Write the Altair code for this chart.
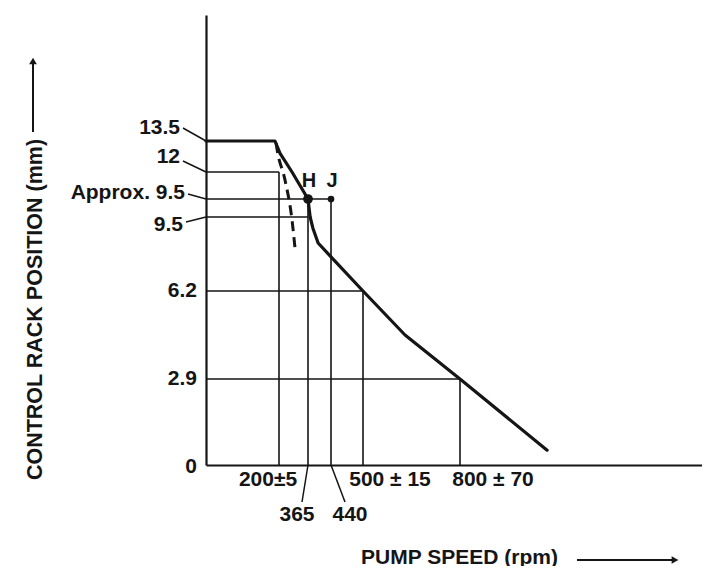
import altair as alt
import pandas as pd

# ---------------- data ----------------
# main governor curve (pump speed rpm -> control rack position mm)
curve_rpm = [0, 189, 206, 274, 365, 372, 381, 398, 440, 500, 630, 800, 1070]
curve_mm = [13.5, 13.5, 12.9, 12.0, 10.5, 9.5, 9.0, 8.34, 7.72, 6.2, 4.55, 2.9, 0.5]
# dashed branch
dash_rpm = [192, 195, 234, 274, 291]
dash_mm = [13.4, 13.06, 11.56, 9.37, 8.12]
# horizontal guides: level (mm) and the speed (rpm) where each guide ends
level_mm = [12, 10.5, 9.5, 6.2, 2.9]
level_rpm = [200, 440, 365, 500, 800]
# vertical guides: speed (rpm) and the level (mm) where each guide starts
speed_rpm = [200, 365, 440, 500, 800]
speed_mm = [12, 10.5, 10.5, 6.2, 2.9]
# axis labels ("Approx. 9.5" is drawn above the 9.5 line in the diagram)
y_labels = ["13.5", "12", "Approx. 9.5", "9.5", "6.2", "2.9", "0"]
y_label_mm = [13.5, 12, 10.5, 9.5, 6.2, 2.9, 0]
x_labels = ["200±5", "365", "440", "500 ± 15", "800 ± 70"]
x_label_rpm = [200, 365, 440, 500, 800]
# marked points
point_names = ["H", "J"]
point_rpm = [365, 440]
point_mm = [10.5, 10.5]

# ---------------- styling ----------------
INK = "#151515"
FONT = "Liberation Sans"
LABEL_SIZE = 21
LABEL_WEIGHT = "bold"
W, H = 496, 450

# schematic (not-to-scale) piecewise axes of the original drawing
xscale = alt.Scale(domain=[0, 200, 365, 440, 500, 800, 1550],
                   range=[0, 73, 102, 125, 157, 254, W], nice=False, zero=False)
yscale = alt.Scale(domain=[0, 2.9, 6.2, 9.5, 10.5, 12, 13.5, 16],
                   range=[H, 364, 276, 202, 184, 157, 126, 0], nice=False, zero=False)

y_label_style = {
    "13.5": dict(dx=-26, dy=-13, lead=(-23, -13)),
    "12": dict(dx=-26, dy=-15, lead=(-23, -11)),
    "Approx. 9.5": dict(dx=-21, dy=-6, lead=(-18, -5)),
    "9.5": dict(dx=-23, dy=8, lead=(-20, 5)),
    "6.2": dict(dx=-9, dy=0),
    "2.9": dict(dx=-9, dy=0),
    "0": dict(dx=-9, dy=2),
}
x_label_style = {
    "200±5": dict(dx=-11, dy=15),
    "365": dict(dx=-11, dy=50, lead=(-6, 37)),
    "440": dict(dx=19, dy=50, lead=(14, 37)),
    "500 ± 15": dict(dx=27, dy=15),
    "800 ± 70": dict(dx=33, dy=15),
}

x_axis = alt.Axis(domain=True, domainColor=INK, domainWidth=2.2, ticks=False,
                  labels=False, grid=False, title="PUMP SPEED (rpm)",
                  titleX=253, titleY=98, titleAlign="center",
                  titleBaseline="alphabetic", titleFont=FONT, titleFontSize=21,
                  titleFontWeight=LABEL_WEIGHT, titleColor=INK)
y_axis = alt.Axis(domain=True, domainColor=INK, domainWidth=2.2, ticks=False,
                  labels=False, grid=False, title="CONTROL RACK POSITION (mm)",
                  titleX=-171, titleY=294, titleAngle=270, titleAlign="center",
                  titleBaseline="middle", titleFont=FONT, titleFontSize=21.5,
                  titleFontWeight=LABEL_WEIGHT, titleColor=INK)


def X(field):
    return alt.X(f"{field}:Q", scale=xscale, axis=x_axis)


def Y(field):
    return alt.Y(f"{field}:Q", scale=yscale, axis=y_axis)


curve_df = pd.DataFrame({"rpm": curve_rpm, "mm": curve_mm})
dash_df = pd.DataFrame({"rpm": dash_rpm, "mm": dash_mm})
hline_df = pd.DataFrame({"x0": [0] * len(level_mm), "rpm": level_rpm, "mm": level_mm})
vline_df = pd.DataFrame({"rpm": speed_rpm, "y0": [0] * len(speed_mm), "mm": speed_mm})
pts_df = pd.DataFrame({"name": point_names, "rpm": point_rpm, "mm": point_mm})

layers = []

# guides
layers.append(
    alt.Chart(hline_df).mark_rule(color=INK, strokeWidth=1.6)
    .encode(x=X("x0"), x2="rpm:Q", y=Y("mm"))
)
layers.append(
    alt.Chart(vline_df).mark_rule(color=INK, strokeWidth=1.6)
    .encode(x=X("rpm"), y=Y("y0"), y2="mm:Q")
)

# curves
layers.append(
    alt.Chart(curve_df).mark_line(color=INK, strokeWidth=3.2, strokeJoin="round",
                                  strokeCap="round")
    .encode(x=X("rpm"), y=Y("mm"), order="rpm:Q")
)
layers.append(
    alt.Chart(dash_df).mark_line(color=INK, strokeWidth=3, strokeDash=[10, 6],
                                 interpolate="monotone")
    .encode(x=X("rpm"), y=Y("mm"), order="rpm:Q")
)

# H and J points
layers.append(
    alt.Chart(pts_df[pts_df["name"] == "H"]).mark_circle(color=INK, size=95, opacity=1)
    .encode(x=X("rpm"), y=Y("mm"))
)
layers.append(
    alt.Chart(pts_df[pts_df["name"] == "J"]).mark_circle(color=INK, size=45, opacity=1)
    .encode(x=X("rpm"), y=Y("mm"))
)
layers.append(
    alt.Chart(pts_df).mark_text(font=FONT, fontSize=20, fontWeight="bold", color=INK,
                                dy=-18, dx=1, baseline="middle")
    .encode(x=X("rpm"), y=Y("mm"), text="name:N")
)

# y labels and leaders
for lab, mm in zip(y_labels, y_label_mm):
    st = y_label_style[lab]
    df = pd.DataFrame({"label": [lab], "rpm": [0], "mm": [mm]})
    layers.append(
        alt.Chart(df).mark_text(font=FONT, fontSize=LABEL_SIZE, fontWeight=LABEL_WEIGHT,
                                color=INK, align="right", baseline="middle",
                                dx=st["dx"], dy=st["dy"])
        .encode(x=X("rpm"), y=Y("mm"), text="label:N")
    )
    if "lead" in st:
        layers.append(
            alt.Chart(df).mark_rule(color=INK, strokeWidth=1.5,
                                    xOffset=st["lead"][0], yOffset=st["lead"][1])
            .encode(x=X("rpm"), x2="rpm:Q", y=Y("mm"), y2="mm:Q")
        )

# x labels and leaders
for lab, rpm in zip(x_labels, x_label_rpm):
    st = x_label_style[lab]
    df = pd.DataFrame({"label": [lab], "rpm": [rpm], "mm": [0]})
    layers.append(
        alt.Chart(df).mark_text(font=FONT, fontSize=LABEL_SIZE, fontWeight=LABEL_WEIGHT,
                                color=INK, align="center", baseline="middle",
                                dx=st["dx"], dy=st["dy"])
        .encode(x=X("rpm"), y=Y("mm"), text="label:N")
    )
    if "lead" in st:
        layers.append(
            alt.Chart(df).mark_rule(color=INK, strokeWidth=1.5,
                                    x2Offset=st["lead"][0], y2Offset=st["lead"][1])
            .encode(x=X("rpm"), x2="rpm:Q", y=Y("mm"), y2="mm:Q")
        )

# title arrows (decorative)
layers.append(
    alt.Chart().mark_rule(color=INK, strokeWidth=2)
    .encode(x=alt.value(-173), y=alt.value(117), y2=alt.value(48))
)
layers.append(
    alt.Chart().mark_point(shape="triangle-up", filled=True, color=INK, size=60, opacity=1)
    .encode(x=alt.value(-173), y=alt.value(46))
)
layers.append(
    alt.Chart().mark_rule(color=INK, strokeWidth=2)
    .encode(x=alt.value(371), x2=alt.value(466), y=alt.value(545))
)
layers.append(
    alt.Chart().mark_point(shape="triangle-right", filled=True, color=INK, size=60, opacity=1)
    .encode(x=alt.value(469), y=alt.value(545))
)

chart = (
    alt.layer(*layers)
    .properties(width=W, height=H, autosize=alt.AutoSizeParams(type="none"),
                padding={"left": 198, "top": 7, "right": 0, "bottom": 101},
                background="white")
    .configure_view(stroke=None)
)

chart.save("out.html", embed_options={"renderer": "svg", "actions": False})
